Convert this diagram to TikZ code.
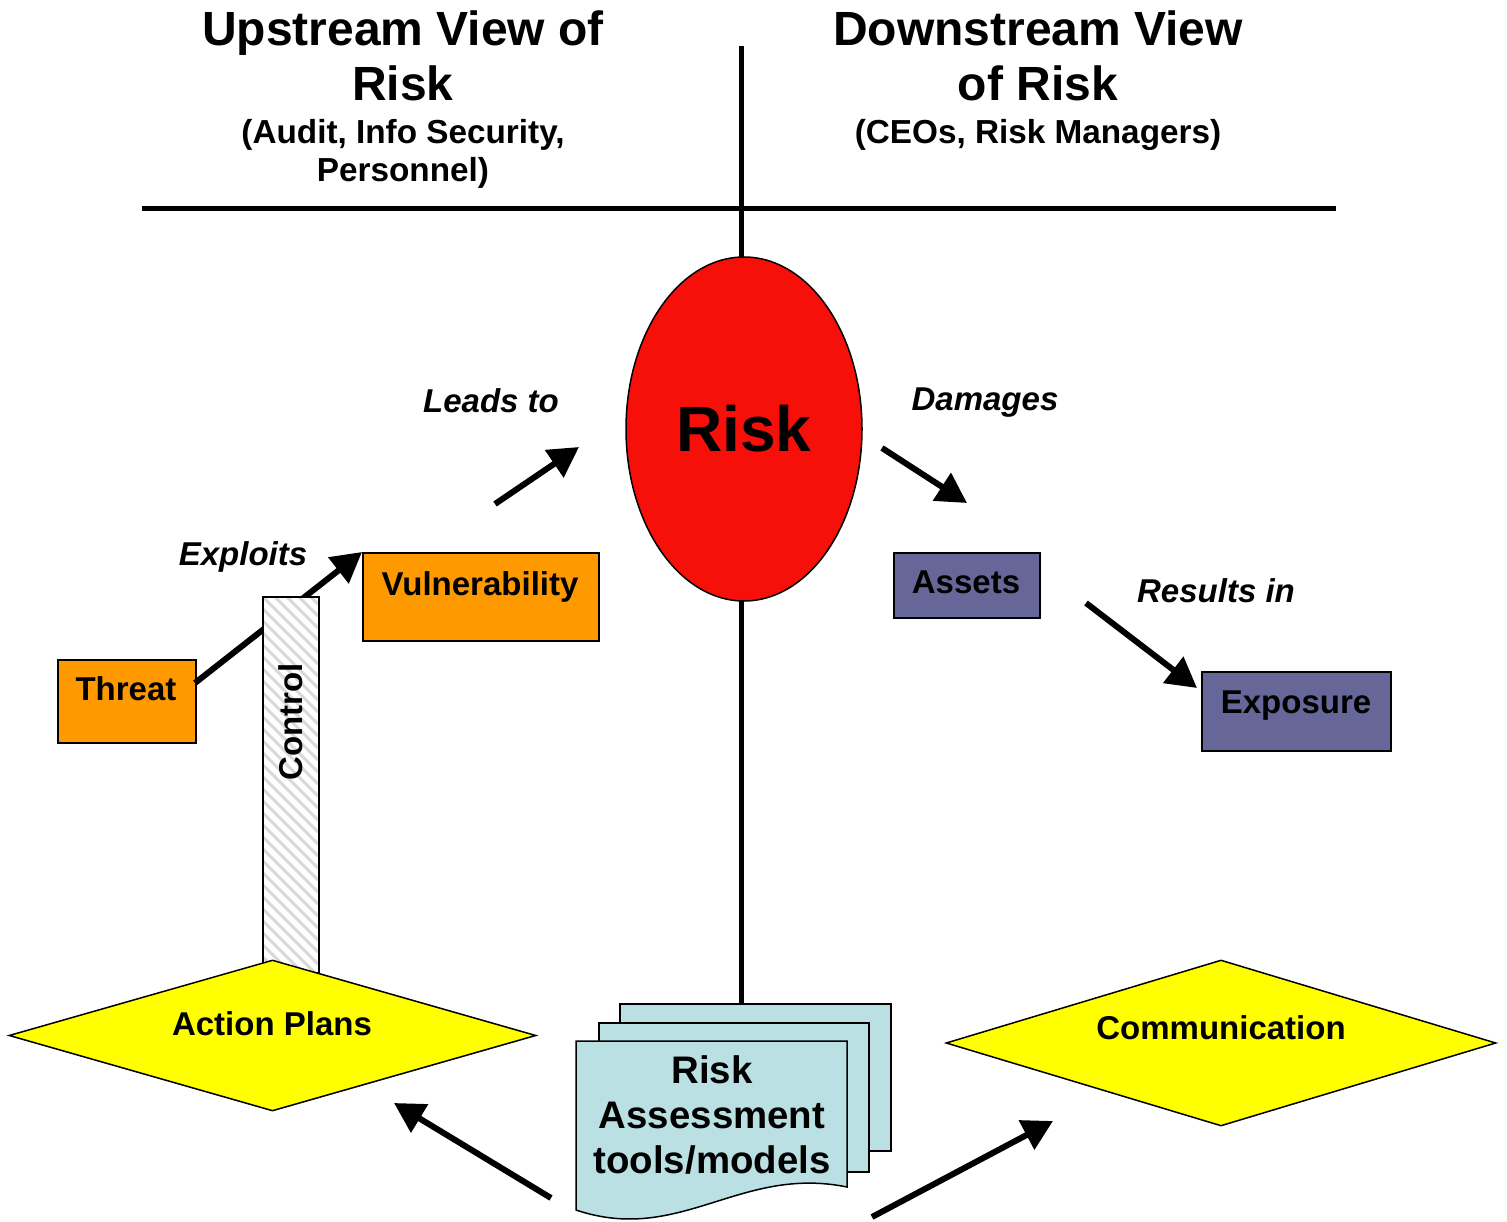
\documentclass[tikz,border=0pt]{standalone}
\usepackage{fontspec}
\setmainfont{Liberation Sans}
\usetikzlibrary{arrows.meta,shapes.geometric}
\definecolor{orng}{HTML}{FF9900}
\definecolor{purp}{HTML}{666699}
\definecolor{yel}{HTML}{FFFF00}
\definecolor{docblue}{HTML}{BBE0E3}
\definecolor{riskred}{HTML}{F7100A}
\definecolor{hatchgray}{HTML}{D9D9D9}
\begin{document}
\begin{tikzpicture}[x=1pt,y=-1pt,
  box/.style={draw=black, line width=1.5pt, rectangle, inner sep=0pt, anchor=north west},
  lbl/.style={font=\bfseries\fontsize{33}{38}\selectfont, anchor=base, inner sep=0pt},
  ilbl/.style={font=\bfseries\itshape\fontsize{33}{38}\selectfont, anchor=base, inner sep=0pt},
  ttl/.style={font=\bfseries\fontsize{48}{55}\selectfont, anchor=base, inner sep=0pt},
  sttl/.style={font=\bfseries\fontsize{33.3}{38}\selectfont, anchor=base, inner sep=0pt},
  bigarrow/.style={line width=6pt, -{Triangle[length=30pt,width=32pt]}},
  axisline/.style={line width=5pt},
  dia/.style={diamond, draw=black, line width=1.5pt, fill=yel, inner sep=0pt},
]
\useasboundingbox (0,0) rectangle (1507,1222);

% titles
\node[ttl] (up1) at (403,46) {Upstream View of};
\node[ttl] (up2) at (403,101) {Risk};
\node[sttl] (up3) at (403,144) {(Audit, Info Security,};
\node[sttl] (up4) at (403,182) {Personnel)};
\node[ttl] (dn1) at (1038,46) {Downstream View};
\node[ttl] (dn2) at (1038,101) {of Risk};
\node[sttl] (dn3) at (1038,144) {(CEOs, Risk Managers)};

% document stack (back pages)
\node[box, fill=docblue, minimum width=271pt, minimum height=147pt] (pg3) at (619,1003) {};
\node[box, fill=docblue, minimum width=270pt, minimum height=149pt] (pg2) at (598,1022) {};

% axis lines
\coordinate (vtop) at (741,46);
\coordinate (hl) at (142,209);
\coordinate (hr) at (1336,209);
\draw[axisline] (vtop) -- (vtop |- pg3.north);
\draw[axisline] (hl) -- (hr);

% risk ellipse
\node[ellipse, draw=black, line width=1.5pt, fill=riskred, minimum width=236pt, minimum height=344pt, inner sep=0pt,
      font=\bfseries\fontsize{64}{70}\selectfont] (risk) at (744,429) {Risk};

% upstream boxes
\node[box, fill=orng, minimum width=236pt, minimum height=88pt] (vul) at (362,552) {};
\node[lbl] (vult) at (480,595) {Vulnerability};
\node[box, fill=orng, minimum width=138pt, minimum height=83pt] (threat) at (57,659) {};
\node[lbl] (threatt) at (126,700) {Threat};

% exploits arrow (behind control bar)
\coordinate (exs) at (195,683);
\draw[bigarrow] (exs) -- (vul.north west);
\node[ilbl] (exl) at (243,565) {Exploits};

% control bar
\fill[white] (262,596) rectangle (318,972);
\begin{scope}
  \clip (262,596) rectangle (318,972);
  \foreach \i in {536,548,...,980} \draw[hatchgray, line width=3pt] (262,\i) -- ++(56,56);
\end{scope}
\node[box, minimum width=56pt, minimum height=376pt] (ctrl) at (262,596) {};
\node[lbl, rotate=90, anchor=center] (ctrlt) at (291,722) {Control};

% leads to
\coordinate (ls) at (495,504);
\coordinate (le) at (579,447);
\draw[bigarrow] (ls) -- (le);
\node[ilbl] (ll) at (491,412) {Leads to};

% downstream
\coordinate (ds) at (882,448);
\coordinate (de) at (967,503);
\draw[bigarrow] (ds) -- (de);
\node[ilbl] (dl) at (985,410) {Damages};
\node[box, fill=purp, minimum width=146pt, minimum height=65pt] (assets) at (893,552) {};
\node[lbl] (assetst) at (966,593) {Assets};
\coordinate (rs) at (1086,603);
\coordinate (re) at (1197,688);
\draw[bigarrow] (rs) -- (re);
\node[ilbl] (rl) at (1216,602) {Results in};
\node[box, fill=purp, minimum width=189pt, minimum height=79pt] (expo) at (1201,671) {};
\node[lbl] (expot) at (1296,713) {Exposure};

% diamonds
\node[dia, minimum width=527pt, minimum height=151pt, aspect=3.49] (ap) at (272.5,1035.5) {};
\node[lbl] (apt) at (272,1035) {Action Plans};
\node[dia, minimum width=550pt, minimum height=166pt, aspect=3.31] (comm) at (1221,1043) {};
\node[lbl] (commt) at (1221,1039) {Communication};

% front document page
\draw[fill=docblue, line width=1.5pt] (576,1041) -- (847,1041) -- (847,1187)
   .. controls (740,1165) and (680,1245) .. (576,1210) -- cycle;
\node[font=\bfseries\fontsize{38.4}{45}\selectfont, align=center, inner sep=0pt] (doc) at (712,1115) {Risk\\Assessment\\tools/models};

% bottom arrows
\coordinate (b1s) at (551,1198);
\coordinate (b1e) at (394,1103);
\draw[bigarrow] (b1s) -- (b1e);
\coordinate (b2s) at (872,1217);
\coordinate (b2e) at (1053,1121);
\draw[bigarrow] (b2s) -- (b2e);
\end{tikzpicture}
\end{document}
